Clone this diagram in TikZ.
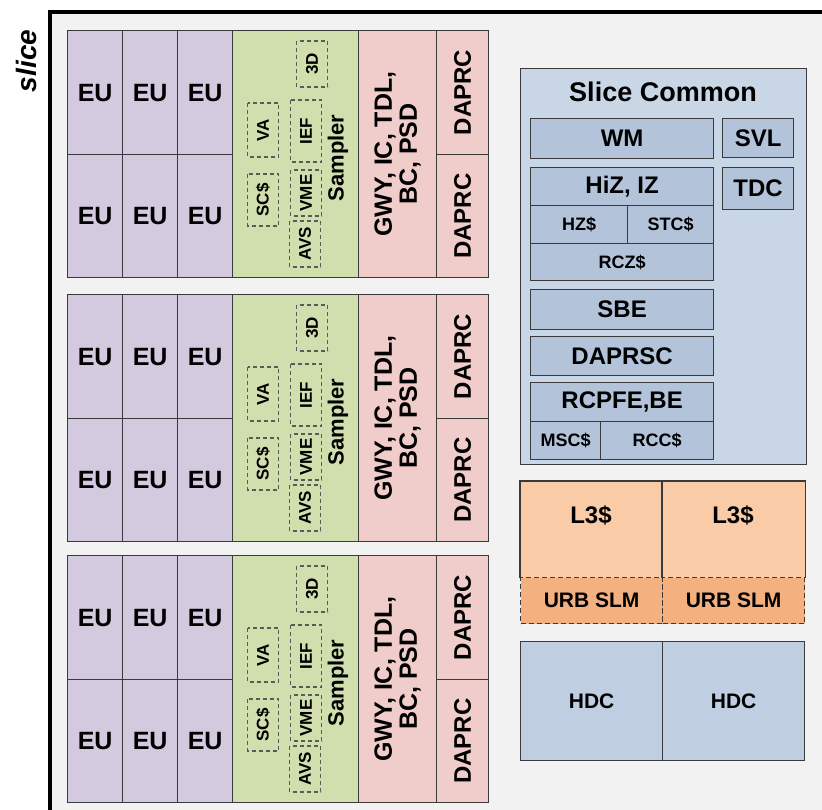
\documentclass[tikz,border=0pt]{standalone}
\usepackage{fontspec}
\setmainfont{Liberation Sans}
\usepackage{graphicx}

\definecolor{bggray}{HTML}{F2F2F2}
\definecolor{eupurple}{HTML}{D3CAE0}
\definecolor{sampgreen}{HTML}{D1DFAF}
\definecolor{gwypink}{HTML}{F0CDCA}
\definecolor{scblue}{HTML}{C9D6E6}
\definecolor{scinner}{HTML}{B2C3DA}
\definecolor{l3peach}{HTML}{F9CBA6}
\definecolor{urborange}{HTML}{F5B07F}
\definecolor{hdcblue}{HTML}{BFCFE1}
\definecolor{edgegray}{HTML}{3A3A3A}
\definecolor{dashgray}{HTML}{5A5A5A}

\newcommand*{\fsz}[1]{\fontsize{#1}{#1}\selectfont}
\newcommand*{\half}{124}

\begin{document}
\begin{tikzpicture}
[
	x=1pt,y=-1pt,
	blk/.style={draw=edgegray,line width=1.3pt,inner sep=0pt,anchor=north west,font=\bfseries\fsz{24}},
	eu/.style={blk,fill=eupurple,minimum width=55,minimum height=\half,font=\bfseries\fsz{25}},
	daprc/.style={blk,fill=gwypink,minimum width=52,minimum height=\half,font=\bfseries\fsz{24}},
	sampitem/.style={rotate=90,draw=dashgray,line width=1.1pt,dash pattern=on 4pt off 3pt,inner sep=0pt,minimum height=31,font=\bfseries\fsz{17}},
	scbox/.style={blk,fill=scinner},
	small/.style={font=\bfseries\fsz{18}},
	urb/.style={blk,fill=urborange,dash pattern=on 5pt off 3pt,font=\bfseries\fsz{21}},
	hdc/.style={blk,fill=hdcblue,minimum width=142,minimum height=119,font=\bfseries\fsz{21}}
]
	\useasboundingbox (0,0) rectangle (822,810);

	% slice frame
	\fill[white] (0,0) rectangle (822,810);
	\fill[bggray] (50,12) rectangle (822,810);
	\draw[line width=3.5pt] (50,812) -- (50,12) -- (824,12);
	\node[rotate=90,font=\bfseries\itshape\fsz{28}] (slicelbl) at (26,61) {slice};

	% subslices
	\foreach \yo/\ss in {30/a,294/b,555/c} {
		% EU array
		\foreach \c [count=\i] in {67,122,177} {
			\node[eu] (eu-\ss-\i-1) at (\c,\yo) {EU};
			\node[eu,minimum height=123] (eu-\ss-\i-2) at (\c,\yo+\half) {EU};
		}
		% sampler
		\node[blk,fill=sampgreen,minimum width=126,minimum height=247] (samp-\ss) at (232,\yo) {};
		\node[sampitem,minimum width=54] (va-\ss) at (263,\yo+100) {VA};
		\node[sampitem,minimum width=52] (scc-\ss) at (263,\yo+170) {SC\$};
		\node[sampitem,minimum width=46] (td-\ss) at (312,\yo+34) {3D};
		\node[sampitem,minimum width=62] (ief-\ss) at (306,\yo+101) {IEF};
		\node[sampitem,minimum width=46] (vme-\ss) at (306,\yo+163) {VME};
		\node[sampitem,minimum width=46] (avs-\ss) at (305,\yo+214) {AVS};
		\node[rotate=90,font=\bfseries\fsz{22}] (samplbl-\ss) at (338,\yo+128) {Sampler};
		% GWY block
		\node[blk,fill=gwypink,minimum width=78,minimum height=247] (gwy-\ss) at (358,\yo) {};
		\node[rotate=90,align=center,font=\bfseries\fsz{25}] (gwylbl-\ss) at (gwy-\ss.center) {GWY, IC, TDL,\\BC, PSD};
		% DAPRC
		\node[daprc] (daprc-\ss-1) at (436,\yo) {\rotatebox{90}{DAPRC}};
		\node[daprc,minimum height=123] (daprc-\ss-2) at (436,\yo+\half) {\rotatebox{90}{DAPRC}};
	}

	% slice common
	\node[blk,fill=scblue,minimum width=286,minimum height=396] (sc) at (520,68) {};
	\node[font=\bfseries\fsz{27}] (sclbl) at (663,92) {Slice Common};
	\node[scbox,minimum width=183,minimum height=40] (wm) at (530,118) {WM};
	\node[scbox,minimum width=71,minimum height=39] (svl) at (722,118) {SVL};
	\node[scbox,minimum width=71,minimum height=42] (tdc) at (722,167) {TDC};
	\node[scbox,minimum width=183,minimum height=38] (hiz) at (530,167) {HiZ, IZ};
	\node[scbox,small,minimum width=97,minimum height=38] (hzc) at (530,205) {HZ\$};
	\node[scbox,small,minimum width=86,minimum height=38] (stc) at (627,205) {STC\$};
	\node[scbox,small,minimum width=183,minimum height=37] (rcz) at (530,243) {RCZ\$};
	\node[scbox,minimum width=183,minimum height=40] (sbe) at (530,289) {SBE};
	\node[scbox,minimum width=183,minimum height=39] (daprsc) at (530,336) {DAPRSC};
	\node[scbox,minimum width=183,minimum height=39] (rcpfe) at (530,382) {RCPFE,BE};
	\node[scbox,small,minimum width=70,minimum height=38] (msc) at (530,421) {MSC\$};
	\node[scbox,small,minimum width=113,minimum height=38] (rcc) at (600,421) {RCC\$};

	% L3 cache
	\foreach \c/\h in {520/a,662/b} {
		\node[blk,draw=none,fill=l3peach,minimum width=142,minimum height=96] (l3-\h) at (\c,481) {};
		\draw[edgegray,line width=1.3pt] (l3-\h.south west) -- (l3-\h.north west) -- (l3-\h.north east) -- (l3-\h.south east);
		\node[font=\bfseries\fsz{24}] (l3lbl-\h) at (\c+71,515) {L3\$};
		\node[urb,minimum width=142,minimum height=46] (urb-\h) at (\c,577) {URB SLM};
	}

	% HDC
	\node[hdc] (hdc-a) at (520,641) {HDC};
	\node[hdc] (hdc-b) at (662,641) {HDC};

\end{tikzpicture}
\end{document}
